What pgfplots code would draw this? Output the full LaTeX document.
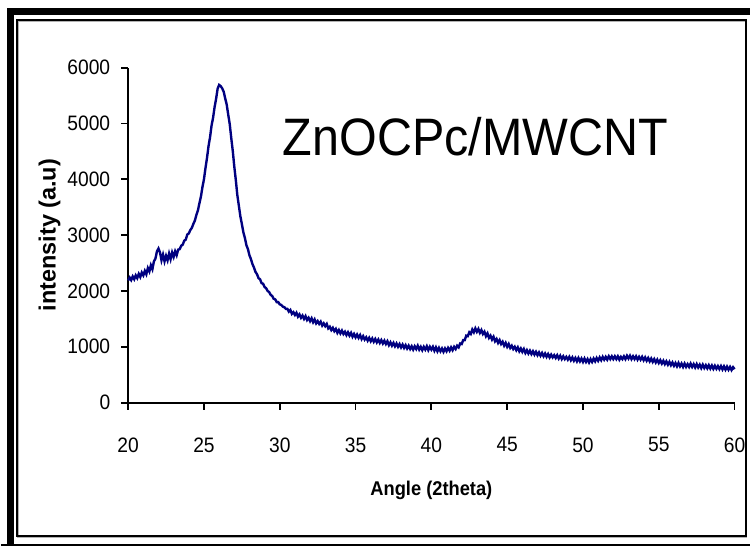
\documentclass[border=0pt]{standalone}
\usepackage{pgfplots}
\pgfplotsset{compat=1.18}
\usepackage{pgfplotstable}
\usepackage{fontspec}
\setmainfont{Liberation Sans}[FakeStretch=0.92]
\newfontfamily\ylabfont{Liberation Sans}
\definecolor{navyline}{RGB}{0,0,128}

\pgfplotstableread{
x y
20.0 2190
20.1 2240
20.2 2195
20.3 2260
20.4 2210
20.5 2280
20.6 2230
20.7 2305
20.8 2250
20.9 2330
21.0 2280
21.1 2360
21.2 2300
21.3 2410
21.4 2350
21.5 2460
21.6 2390
21.7 2530
21.8 2580
21.9 2710
22.0 2760
22.1 2690
22.2 2550
22.3 2650
22.4 2530
22.5 2630
22.6 2550
22.7 2670
22.8 2570
22.9 2690
23.0 2610
23.1 2710
23.2 2640
23.3 2740
23.4 2750
23.5 2810
23.6 2830
23.7 2900
23.8 2920
23.9 3010
24.0 3030
24.1 3090
24.2 3130
24.3 3200
24.4 3260
24.5 3360
24.6 3440
24.7 3570
24.8 3690
24.9 3860
25.0 4000
25.1 4200
25.2 4380
25.3 4590
25.4 4750
25.5 4960
25.6 5100
25.7 5290
25.8 5440
25.9 5620
26.0 5690
26.1 5670
26.2 5630
26.3 5570
26.4 5450
26.5 5340
26.6 5160
26.7 4990
26.8 4740
26.9 4510
27.0 4230
27.1 3990
27.2 3720
27.3 3530
27.4 3340
27.5 3200
27.6 3050
27.7 2950
27.8 2820
27.9 2750
28.0 2640
28.1 2570
28.2 2480
28.3 2420
28.4 2340
28.5 2300
28.6 2230
28.7 2210
28.8 2140
28.9 2130
29.0 2070
29.1 2050
29.2 2000
29.3 1980
29.4 1930
29.5 1910
29.6 1860
29.7 1850
29.8 1800
29.9 1800
30.0 1760
30.1 1750
30.2 1720
30.3 1710
30.4 1680
30.5 1680
30.6 1630
30.7 1660
30.8 1590
30.9 1620
31.0 1570
31.1 1610
31.2 1540
31.3 1580
31.4 1520
31.5 1560
31.6 1500
31.7 1550
31.8 1480
31.9 1520
32.0 1460
32.1 1510
32.2 1440
32.3 1490
32.4 1420
32.5 1460
32.6 1410
32.7 1450
32.8 1380
32.9 1420
33.0 1370
33.1 1410
33.2 1330
33.3 1360
33.4 1300
33.5 1340
33.6 1280
33.7 1320
33.8 1250
33.9 1300
34.0 1240
34.1 1290
34.2 1230
34.3 1270
34.4 1210
34.5 1260
34.6 1200
34.7 1250
34.8 1180
34.9 1230
35.0 1170
35.1 1220
35.2 1160
35.3 1210
35.4 1140
35.5 1190
35.6 1130
35.7 1170
35.8 1110
35.9 1160
36.0 1100
36.1 1150
36.2 1090
36.3 1140
36.4 1080
36.5 1130
36.6 1070
36.7 1120
36.8 1060
36.9 1110
37.0 1050
37.1 1100
37.2 1030
37.3 1080
37.4 1020
37.5 1070
37.6 1010
37.7 1060
37.8 1000
37.9 1050
38.0 990
38.1 1040
38.2 980
38.3 1030
38.4 970
38.5 1020
38.6 960
38.7 1010
38.8 950
38.9 1010
39.0 960
39.1 1020
39.2 950
39.3 1000
39.4 940
39.5 1000
39.6 950
39.7 1010
39.8 940
39.9 1000
40.0 950
40.1 1000
40.2 930
40.3 990
40.4 920
40.5 980
40.6 920
40.7 970
40.8 910
40.9 970
41.0 920
41.1 980
41.2 930
41.3 990
41.4 940
41.5 1000
41.6 960
41.7 1020
41.8 990
41.9 1060
42.0 1050
42.1 1120
42.2 1120
42.3 1200
42.4 1190
42.5 1260
42.6 1230
42.7 1310
42.8 1260
42.9 1330
43.0 1270
43.1 1320
43.2 1250
43.3 1300
43.4 1230
43.5 1270
43.6 1190
43.7 1240
43.8 1160
43.9 1200
44.0 1130
44.1 1180
44.2 1100
44.3 1140
44.4 1070
44.5 1120
44.6 1050
44.7 1090
44.8 1020
44.9 1070
45.0 1000
45.1 1050
45.2 980
45.3 1020
45.4 960
45.5 1000
45.6 940
45.7 990
45.8 920
45.9 970
46.0 910
46.1 960
46.2 890
46.3 940
46.4 880
46.5 930
46.6 870
46.7 920
46.8 860
46.9 910
47.0 850
47.1 900
47.2 840
47.3 890
47.4 830
47.5 880
47.6 820
47.7 870
47.8 810
47.9 860
48.0 810
48.1 850
48.2 800
48.3 850
48.4 790
48.5 840
48.6 780
48.7 830
48.8 780
48.9 820
49.0 770
49.1 820
49.2 760
49.3 810
49.4 750
49.5 800
49.6 740
49.7 800
49.8 740
49.9 790
50.0 730
50.1 790
50.2 730
50.3 780
50.4 720
50.5 780
50.6 730
50.7 790
50.8 740
50.9 800
51.0 750
51.1 810
51.2 760
51.3 820
51.4 770
51.5 820
51.6 770
51.7 830
51.8 780
51.9 830
52.0 780
52.1 830
52.2 780
52.3 830
52.4 770
52.5 820
52.6 780
52.7 830
52.8 780
52.9 840
53.0 790
53.1 840
53.2 780
53.3 830
53.4 780
53.5 830
53.6 770
53.7 820
53.8 770
53.9 820
54.0 760
54.1 810
54.2 750
54.3 800
54.4 740
54.5 790
54.6 730
54.7 780
54.8 720
54.9 770
55.0 710
55.1 760
55.2 700
55.3 750
55.4 690
55.5 740
55.6 680
55.7 730
55.8 670
55.9 720
56.0 660
56.1 710
56.2 650
56.3 710
56.4 650
56.5 700
56.6 640
56.7 700
56.8 640
56.9 690
57.0 640
57.1 700
57.2 640
57.3 690
57.4 630
57.5 690
57.6 630
57.7 680
57.8 620
57.9 680
58.0 620
58.1 670
58.2 615
58.3 670
58.4 610
58.5 665
58.6 605
58.7 660
58.8 605
58.9 655
59.0 600
59.1 655
59.2 595
59.3 650
59.4 590
59.5 645
59.6 590
59.7 640
59.8 585
59.9 635
60.0 600
}\xrd

\begin{document}
\begin{tikzpicture}
\begin{axis}[
  at={(0pt,0pt)}, anchor=south west,
  scale only axis,
  width=305pt, height=168.5pt,
  xmin=20, xmax=60, ymin=0, ymax=6000,
  axis x line*=bottom, axis y line*=left,
  axis line style={line width=0.9pt},
  tick align=outside,
  major tick length=3.5pt,
  tick style={line width=0.9pt, black},
  xtick={20,25,...,60},
  ytick={0,1000,...,6000},
  minor tick num=0,
  /pgf/number format/assume math mode=true,
  /pgf/number format/1000 sep={},
  ticklabel style={font=\fontsize{10.5}{12}\selectfont},
  xticklabel style={yshift=-10.5pt},
  yticklabel style={xshift=-2pt},
  xlabel={Angle (2theta)},
  ylabel={intensity (a.u)},
  xlabel style={font=\fontsize{10}{12}\selectfont\bfseries,
    at={(axis description cs:0.5,0)}, anchor=base, yshift=-46.5pt},
  ylabel style={font=\ylabfont\fontsize{11.8}{13}\selectfont\bfseries,
    at={(axis description cs:-0.1295,0.5)}, anchor=center},
  clip=false,
]
\addplot[color=navyline, line width=1.2pt, mark=none] table[x=x, y=y] {\xrd};
\node[anchor=base, font=\fontsize{26.5}{30}\selectfont] at (axis cs:42.9,4420) {ZnOCPc/MWCNT};
\end{axis}
% chart area frame and outer border, 1 unit = 1pt
\begin{scope}[x=1pt, y=1pt]
\draw[gray!60, line width=0.6pt] (-55.4,-67.9) rectangle (311.1,191.6);
\draw[black, line width=1pt] (-56,-67.25) rectangle (310.5,192.25);
\draw[black, line width=3.5pt] (-59.25,-72) -- (-59.25,196.75) -- (312.5,196.75);
\draw[black, line width=0.9pt] (-64,-71.5) -- (312.5,-71.5);
\useasboundingbox (-64,-72) rectangle (312.5,202.5);
\end{scope}
\end{tikzpicture}
\end{document}
